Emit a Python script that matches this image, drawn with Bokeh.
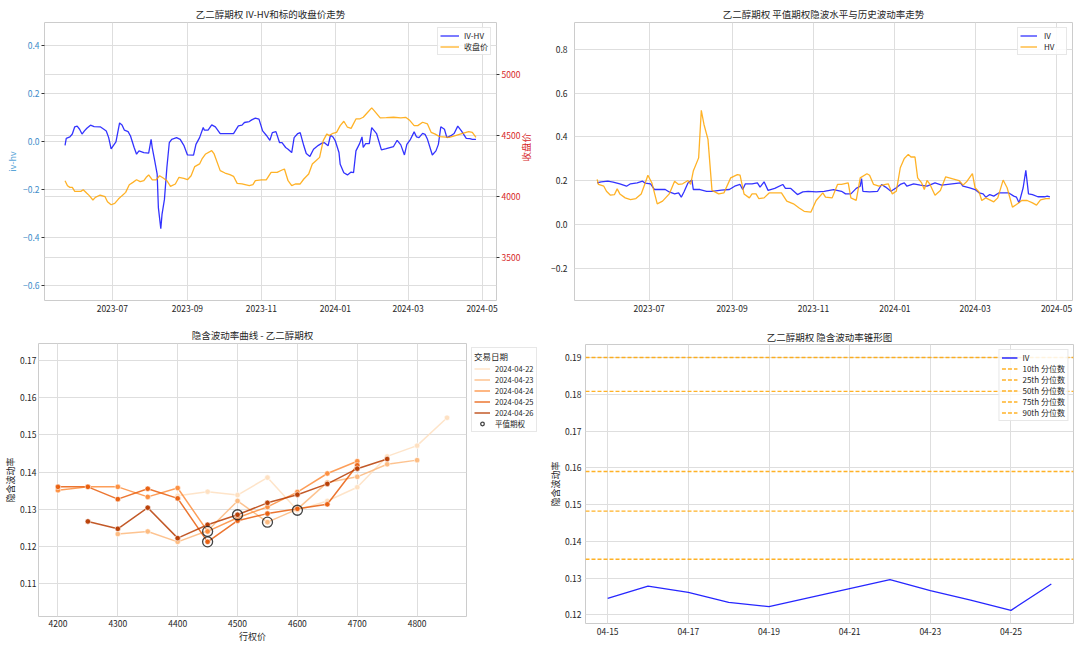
import math
import pandas as pd
from bokeh.plotting import figure
from bokeh.models import (Range1d, LinearAxis, Grid, FixedTicker,
                          CustomJSTickFormatter, DatetimeTickFormatter,
                          Legend, LegendItem)
from bokeh.layouts import row, column
from bokeh.embed import file_html
from bokeh.resources import INLINE

FONT = "Noto Sans CJK SC"
TXT = "#262626"
GRID = "#dedede"
EDGE = "#cccccc"

# ---------------- data: top-left (IV-HV and close) ----------------
ivhv_dates = ["2023-05-23", "2023-05-24", "2023-05-27", "2023-05-29", "2023-05-31", "2023-06-02", "2023-06-04",
              "2023-06-06", "2023-06-08", "2023-06-10", "2023-06-13", "2023-06-16", "2023-06-21", "2023-06-24",
              "2023-06-26", "2023-06-28", "2023-06-30", "2023-07-04", "2023-07-07", "2023-07-09", "2023-07-11",
              "2023-07-14", "2023-07-16", "2023-07-19", "2023-07-21", "2023-07-23", "2023-07-27", "2023-07-31",
              "2023-08-02", "2023-08-03", "2023-08-05", "2023-08-07", "2023-08-08", "2023-08-10", "2023-08-11",
              "2023-08-13", "2023-08-15", "2023-08-17", "2023-08-19", "2023-08-23", "2023-08-26", "2023-08-29",
              "2023-09-01", "2023-09-06", "2023-09-08", "2023-09-11", "2023-09-14", "2023-09-15", "2023-09-18",
              "2023-09-21", "2023-09-24", "2023-09-28", "2023-10-03", "2023-10-09", "2023-10-13", "2023-10-16",
              "2023-10-18", "2023-10-22", "2023-10-24", "2023-10-27", "2023-10-30", "2023-11-02", "2023-11-05",
              "2023-11-08", "2023-11-10", "2023-11-13", "2023-11-16", "2023-11-18", "2023-11-21", "2023-11-23",
              "2023-11-26", "2023-11-28", "2023-12-01", "2023-12-03", "2023-12-06", "2023-12-08", "2023-12-11",
              "2023-12-14", "2023-12-18", "2023-12-21", "2023-12-23", "2023-12-26", "2023-12-28", "2023-12-30",
              "2024-01-01", "2024-01-04", "2024-01-05", "2024-01-08", "2024-01-11", "2024-01-14", "2024-01-16",
              "2024-01-18", "2024-01-21", "2024-01-23", "2024-01-24", "2024-01-26", "2024-01-29", "2024-01-31",
              "2024-02-04", "2024-02-08", "2024-02-12", "2024-02-18", "2024-02-21", "2024-02-24", "2024-02-27",
              "2024-02-29", "2024-03-03", "2024-03-06", "2024-03-08", "2024-03-10", "2024-03-13", "2024-03-15",
              "2024-03-17", "2024-03-21", "2024-03-24", "2024-03-26", "2024-03-28", "2024-03-31", "2024-04-02",
              "2024-04-05", "2024-04-08", "2024-04-11", "2024-04-14", "2024-04-18", "2024-04-21", "2024-04-23",
              "2024-04-26"]
ivhv_values = [-0.017, 0.012, 0.018, 0.030, 0.060, 0.063, 0.050,
               0.030, 0.043, 0.054, 0.067, 0.061, 0.060, 0.050,
               0.043, 0.015, -0.032, -0.003, 0.076, 0.068, 0.046,
               0.040, 0.022, -0.026, -0.054, -0.040, -0.047, -0.049,
               0.008, -0.029, -0.082, -0.137, -0.276, -0.364, -0.304,
               -0.242, -0.110, -0.006, 0.008, 0.015, 0.008, -0.017,
               -0.057, -0.058, -0.013, 0.015, 0.057, 0.046, 0.046,
               0.068, 0.060, 0.032, 0.032, 0.032, 0.064, 0.067,
               0.078, 0.082, 0.089, 0.096, 0.092, 0.043, 0.025,
               0.004, 0.036, 0.040, -0.006, -0.006, -0.026, -0.033,
               -0.047, 0.015, 0.032, 0.036, -0.019, -0.051, -0.063,
               -0.033, -0.017, -0.008, -0.006, -0.019, 0.025, 0.018,
               0.001, -0.047, -0.096, -0.131, -0.140, -0.128, -0.131,
               -0.040, -0.010, 0.018, -0.026, -0.010, -0.010, 0.057,
               0.032, -0.036, -0.031, -0.022, 0.004, -0.015, -0.057,
               -0.013, 0.008, 0.039, 0.018, 0.015, 0.033, 0.029,
               0.008, -0.057, -0.040, -0.013, 0.060, 0.050, 0.015,
               0.022, 0.032, 0.063, 0.043, 0.012, 0.011, 0.008,
               0.008]

close_dates = ["2023-05-23", "2023-05-25", "2023-05-27", "2023-05-29", "2023-05-31", "2023-06-05", "2023-06-07",
               "2023-06-10", "2023-06-12", "2023-06-15", "2023-06-17", "2023-06-21", "2023-06-25", "2023-06-27",
               "2023-06-30", "2023-07-03", "2023-07-06", "2023-07-09", "2023-07-12", "2023-07-15", "2023-07-18",
               "2023-07-21", "2023-07-24", "2023-07-27", "2023-07-29", "2023-07-31", "2023-08-03", "2023-08-06",
               "2023-08-09", "2023-08-12", "2023-08-15", "2023-08-18", "2023-08-22", "2023-08-25", "2023-08-29",
               "2023-09-01", "2023-09-04", "2023-09-07", "2023-09-11", "2023-09-13", "2023-09-16", "2023-09-21",
               "2023-09-23", "2023-09-28", "2023-10-02", "2023-10-06", "2023-10-09", "2023-10-12", "2023-10-16",
               "2023-10-22", "2023-10-25", "2023-10-27", "2023-11-01", "2023-11-05", "2023-11-09", "2023-11-14",
               "2023-11-18", "2023-11-20", "2023-11-23", "2023-11-26", "2023-11-29", "2023-12-03", "2023-12-06",
               "2023-12-10", "2023-12-13", "2023-12-16", "2023-12-19", "2023-12-22", "2023-12-25", "2023-12-27",
               "2023-12-30", "2024-01-02", "2024-01-05", "2024-01-08", "2024-01-11", "2024-01-14", "2024-01-18",
               "2024-01-21", "2024-01-24", "2024-01-27", "2024-01-31", "2024-02-02", "2024-02-07", "2024-02-12",
               "2024-02-18", "2024-02-24", "2024-02-28", "2024-03-02", "2024-03-06", "2024-03-09", "2024-03-13",
               "2024-03-17", "2024-03-20", "2024-03-23", "2024-03-27", "2024-04-04", "2024-04-09", "2024-04-15",
               "2024-04-20", "2024-04-23", "2024-04-26"]
close_values = [4129, 4088, 4074, 4074, 4041, 4041, 4055,
                4025, 4006, 3970, 3992, 4011, 3997, 3956,
                3931, 3942, 3978, 4006, 4033, 4096, 4115,
                4137, 4121, 4129, 4157, 4176, 4135, 4135,
                4170, 4151, 4129, 4082, 4102, 4157, 4148,
                4137, 4170, 4245, 4267, 4308, 4349, 4376,
                4349, 4212, 4192, 4179, 4165, 4107, 4102,
                4088, 4096, 4129, 4135, 4135, 4198, 4198,
                4217, 4225, 4129, 4088, 4102, 4102, 4143,
                4184, 4267, 4294, 4321, 4459, 4514, 4500,
                4519, 4527, 4582, 4618, 4569, 4560, 4637,
                4637, 4651, 4684, 4728, 4706, 4646, 4648,
                4651, 4646, 4651, 4629, 4582, 4582, 4610,
                4596, 4527, 4514, 4492, 4486, 4500, 4519,
                4533, 4527, 4486]

# ---------------- data: top-right (IV and HV) ----------------
iv_dates = ["2023-05-23", "2023-05-26", "2023-05-31", "2023-06-04", "2023-06-09", "2023-06-14", "2023-06-17",
            "2023-06-22", "2023-06-26", "2023-06-28", "2023-07-02", "2023-07-05", "2023-07-09", "2023-07-13",
            "2023-07-16", "2023-07-20", "2023-07-23", "2023-07-25", "2023-07-27", "2023-07-30", "2023-08-02",
            "2023-08-03", "2023-08-08", "2023-08-13", "2023-08-17", "2023-08-24", "2023-08-30", "2023-09-03",
            "2023-09-07", "2023-09-09", "2023-09-11", "2023-09-16", "2023-09-20", "2023-09-22", "2023-09-25",
            "2023-09-28", "2023-10-03", "2023-10-09", "2023-10-11", "2023-10-15", "2023-10-20", "2023-10-24",
            "2023-10-28", "2023-11-03", "2023-11-09", "2023-11-16", "2023-11-22", "2023-11-25", "2023-11-29",
            "2023-12-03", "2023-12-06", "2023-12-07", "2023-12-08", "2023-12-13", "2023-12-19", "2023-12-22",
            "2023-12-25", "2023-12-29", "2024-01-02", "2024-01-05", "2024-01-08", "2024-01-10", "2024-01-15",
            "2024-01-20", "2024-01-25", "2024-01-31", "2024-02-05", "2024-02-19", "2024-02-21", "2024-02-26",
            "2024-03-01", "2024-03-04", "2024-03-07", "2024-03-09", "2024-03-12", "2024-03-15", "2024-03-19",
            "2024-03-26", "2024-03-30", "2024-04-01", "2024-04-03", "2024-04-06", "2024-04-08", "2024-04-10",
            "2024-04-13", "2024-04-17", "2024-04-22", "2024-04-24", "2024-04-26"]
iv_values = [0.191, 0.196, 0.199, 0.195, 0.187, 0.176, 0.187,
             0.191, 0.199, 0.190, 0.187, 0.161, 0.161, 0.161,
             0.150, 0.141, 0.146, 0.126, 0.150, 0.191, 0.204,
             0.161, 0.161, 0.153, 0.153, 0.158, 0.161, 0.176,
             0.184, 0.161, 0.187, 0.187, 0.191, 0.172, 0.196,
             0.157, 0.166, 0.184, 0.166, 0.166, 0.138, 0.150,
             0.153, 0.150, 0.153, 0.161, 0.153, 0.141, 0.141,
             0.166, 0.176, 0.211, 0.153, 0.150, 0.153, 0.184,
             0.172, 0.153, 0.169, 0.184, 0.191, 0.176, 0.187,
             0.181, 0.176, 0.191, 0.181, 0.191, 0.176, 0.169,
             0.161, 0.146, 0.141, 0.126, 0.138, 0.131, 0.146,
             0.146, 0.131, 0.126, 0.100, 0.169, 0.248, 0.141,
             0.138, 0.128, 0.128, 0.131, 0.127]

hv_dates = ["2023-05-23", "2023-05-24", "2023-05-28", "2023-05-30", "2023-06-02", "2023-06-05", "2023-06-07",
            "2023-06-09", "2023-06-13", "2023-06-17", "2023-06-21", "2023-06-25", "2023-06-28", "2023-06-30",
            "2023-07-03", "2023-07-07", "2023-07-11", "2023-07-16", "2023-07-20", "2023-07-23", "2023-07-26",
            "2023-07-30", "2023-08-01", "2023-08-03", "2023-08-07", "2023-08-09", "2023-08-11", "2023-08-14",
            "2023-08-17", "2023-08-22", "2023-08-26", "2023-08-31", "2023-09-05", "2023-09-07", "2023-09-10",
            "2023-09-14", "2023-09-16", "2023-09-19", "2023-09-21", "2023-09-25", "2023-09-29", "2023-10-08",
            "2023-10-12", "2023-10-17", "2023-10-21", "2023-10-25", "2023-10-30", "2023-11-03", "2023-11-08",
            "2023-11-10", "2023-11-15", "2023-11-19", "2023-11-22", "2023-11-27", "2023-11-29", "2023-12-03",
            "2023-12-06", "2023-12-11", "2023-12-13", "2023-12-16", "2023-12-20", "2023-12-25", "2023-12-27",
            "2023-12-30", "2024-01-02", "2024-01-05", "2024-01-08", "2024-01-11", "2024-01-13", "2024-01-16",
            "2024-01-18", "2024-01-21", "2024-01-23", "2024-01-25", "2024-01-27", "2024-01-31", "2024-02-04",
            "2024-02-08", "2024-02-18", "2024-02-21", "2024-02-24", "2024-02-28", "2024-03-01", "2024-03-04",
            "2024-03-06", "2024-03-09", "2024-03-15", "2024-03-18", "2024-03-22", "2024-03-25", "2024-03-29",
            "2024-04-01", "2024-04-05", "2024-04-09", "2024-04-13", "2024-04-16", "2024-04-19", "2024-04-23",
            "2024-04-26"]
hv_values = [0.207, 0.184, 0.176, 0.153, 0.135, 0.138, 0.164,
             0.141, 0.123, 0.115, 0.120, 0.141, 0.191, 0.226,
             0.191, 0.096, 0.108, 0.141, 0.199, 0.184, 0.187,
             0.202, 0.184, 0.245, 0.305, 0.521, 0.457, 0.389,
             0.157, 0.141, 0.146, 0.214, 0.229, 0.226, 0.141,
             0.123, 0.141, 0.141, 0.120, 0.123, 0.146, 0.146,
             0.108, 0.096, 0.078, 0.062, 0.058, 0.111, 0.146,
             0.126, 0.123, 0.184, 0.184, 0.191, 0.123, 0.112,
             0.214, 0.233, 0.226, 0.184, 0.176, 0.184, 0.187,
             0.141, 0.153, 0.260, 0.302, 0.321, 0.309, 0.309,
             0.214, 0.191, 0.161, 0.202, 0.187, 0.135, 0.157,
             0.219, 0.202, 0.181, 0.199, 0.233, 0.169, 0.150,
             0.111, 0.123, 0.105, 0.123, 0.204, 0.169, 0.081,
             0.093, 0.111, 0.111, 0.100, 0.090, 0.114, 0.120,
             0.120]

top_date_ticks = ["2023-07-01", "2023-09-01", "2023-11-01", "2024-01-01", "2024-03-01", "2024-05-01"]
ivhv_ticks = [-0.6, -0.4, -0.2, 0.0, 0.2, 0.4]
price_ticks = [3500, 4000, 4500, 5000]
vol_ticks = [-0.2, 0.0, 0.2, 0.4, 0.6, 0.8]

# ---------------- data: bottom-left (smile) ----------------
smile_dates = ["2024-04-22", "2024-04-23", "2024-04-24", "2024-04-25", "2024-04-26"]
strikes_0422 = [4400, 4450, 4500, 4550, 4600, 4650, 4700, 4750, 4800, 4850]
iv_0422 = [0.1336, 0.1347, 0.1338, 0.1385, 0.1297, 0.1322, 0.1359, 0.1442, 0.1471, 0.1546]
strikes_0423 = [4300, 4350, 4400, 4450, 4500, 4550, 4600, 4650, 4700, 4750, 4800]
iv_0423 = [0.1233, 0.1240, 0.1212, 0.1242, 0.1322, 0.1265, 0.1300, 0.1372, 0.1387, 0.1421, 0.1432]
strikes_0424 = [4200, 4250, 4300, 4350, 4400, 4450, 4500, 4550, 4600, 4650, 4700]
iv_0424 = [0.1351, 0.1360, 0.1360, 0.1333, 0.1357, 0.1240, 0.1277, 0.1306, 0.1346, 0.1396, 0.1429]
strikes_0425 = [4200, 4250, 4300, 4350, 4400, 4450, 4500, 4550, 4600, 4650, 4700]
iv_0425 = [0.1360, 0.1360, 0.1327, 0.1355, 0.1329, 0.1212, 0.1269, 0.1288, 0.1301, 0.1313, 0.1418]
strikes_0426 = [4250, 4300, 4350, 4400, 4450, 4500, 4550, 4600, 4650, 4700, 4750]
iv_0426 = [0.1267, 0.1247, 0.1304, 0.1222, 0.1258, 0.1285, 0.1317, 0.1339, 0.1368, 0.1409, 0.1435]
atm_strikes = [4600, 4550, 4450, 4450, 4500]
strike_ticks = [4200, 4300, 4400, 4500, 4600, 4700, 4800]
smile_iv_ticks = [0.11, 0.12, 0.13, 0.14, 0.15, 0.16, 0.17]

# ---------------- data: bottom-right (cone) ----------------
cone_dates = ["2024-04-15", "2024-04-16", "2024-04-17", "2024-04-18", "2024-04-19",
              "2024-04-22", "2024-04-23", "2024-04-24", "2024-04-25", "2024-04-26"]
cone_iv = [0.1245, 0.1278, 0.1261, 0.1234, 0.1222, 0.1296, 0.1266, 0.1240, 0.1212, 0.1284]
pct_labels = ["10th 分位数", "25th 分位数", "50th 分位数", "75th 分位数", "90th 分位数"]
pct_values = [0.1351, 0.1482, 0.1590, 0.1808, 0.1900]
cone_date_ticks = ["2024-04-15", "2024-04-17", "2024-04-19", "2024-04-21", "2024-04-23", "2024-04-25"]
cone_iv_ticks = [0.12, 0.13, 0.14, 0.15, 0.16, 0.17, 0.18, 0.19]


# ---------------- helpers ----------------
def ms(d):
    return pd.Timestamp(d).timestamp() * 1000.0


def padded(lo, hi, frac=0.05):
    span = hi - lo
    return lo - span * frac, hi + span * frac


def num_fmt(dec):
    return CustomJSTickFormatter(code="""
        const s = Math.abs(tick).toFixed(%d);
        return (tick < -1e-9 ? "\\u2212" : "") + s;
    """ % dec)


def make_fig(**kw):
    p = figure(output_backend="svg", toolbar_location=None, **kw)
    if "frame_align" in p.properties():
        p.frame_align = False
    return p


def style_axis(ax, color=TXT):
    ax.axis_line_color = None
    ax.major_tick_line_color = None
    ax.minor_tick_line_color = None
    ax.major_tick_out = 0
    ax.major_tick_in = 0
    ax.minor_tick_out = 0
    ax.minor_tick_in = 0
    ax.major_label_text_font = FONT
    ax.major_label_text_font_size = "8.5px"
    ax.major_label_text_color = color
    ax.major_label_standoff = 4
    ax.axis_label_text_font = FONT
    ax.axis_label_text_font_size = "9px"
    ax.axis_label_text_font_style = "normal"
    ax.axis_label_text_color = TXT
    ax.axis_label_standoff = 0


def style_fig(p, title, standoff=3):
    p.title.text = title
    p.title.text_font = FONT
    p.title.text_font_size = "9.5px"
    p.title.text_font_style = "normal"
    p.title.text_color = TXT
    p.title.align = "center"
    p.title.standoff = standoff
    p.outline_line_color = EDGE
    p.outline_line_width = 1
    p.background_fill_color = "white"
    p.border_fill_color = "white"
    for ax in p.axis:
        style_axis(ax)
    for g in p.grid:
        g.grid_line_color = GRID
        g.grid_line_width = 1


def style_legend(lg, glyph_w=18, margin=5, font="8px"):
    lg.label_text_font = FONT
    lg.label_text_font_size = font
    lg.label_text_color = TXT
    lg.glyph_width = glyph_w
    lg.glyph_height = 9
    lg.label_height = 9
    lg.spacing = 0
    lg.padding = 2
    lg.margin = margin
    lg.label_standoff = 5
    lg.border_line_color = "#d0d0d0"
    lg.background_fill_alpha = 0.85


date_fmt = DatetimeTickFormatter(days="%Y-%m", months="%Y-%m", years="%Y-%m")
top_xrange = padded(ms(ivhv_dates[0]), ms(ivhv_dates[-1]))

# ---------------- top-left ----------------
p1 = make_fig(width=544, height=320, x_axis_type="datetime",
              x_range=Range1d(*top_xrange), y_range=Range1d(-0.6625, 0.494),
              min_border_left=44, min_border_right=48, min_border_top=22, min_border_bottom=20)
p1.extra_y_ranges = {"price": Range1d(3143, 5431)}
r_ivhv = p1.line(pd.to_datetime(ivhv_dates), ivhv_values, color="blue", alpha=0.8, line_width=1.3)
r_close = p1.line(pd.to_datetime(close_dates), close_values, color="orange", alpha=0.85,
                  line_width=1.3, y_range_name="price")
ax_r = LinearAxis(y_range_name="price", axis_label="收盘价", ticker=FixedTicker(ticks=price_ticks))
p1.add_layout(ax_r, "right")
p1.add_layout(Grid(dimension=1, ticker=FixedTicker(ticks=price_ticks), y_range_name="price"))
style_fig(p1, "乙二醇期权 IV-HV和标的收盘价走势")
axl = p1.left[0]
axl.ticker = FixedTicker(ticks=ivhv_ticks)
axl.formatter = num_fmt(1)
axl.axis_label = "iv-hv"
axl.major_label_text_color = "#3d8bc9"
axl.axis_label_text_color = "#5aa6d8"
axl.axis_label_standoff = 1
ax_r.major_label_text_color = "#d62728"
ax_r.axis_label_text_color = "#d62728"
ax_r.axis_label_text_font_size = "9.5px"
ax_r.axis_label_standoff = 3
if "axis_label_orientation" in ax_r.properties():
    ax_r.axis_label_orientation = math.pi / 2
for a in (axl, ax_r):
    a.major_tick_line_color = "#333333"
    a.major_tick_out = 3
    a.major_label_standoff = 2
p1.xaxis.ticker = FixedTicker(ticks=[ms(d) for d in top_date_ticks])
p1.xaxis.formatter = date_fmt
lg1 = Legend(items=[LegendItem(label="IV-HV", renderers=[r_ivhv]),
                    LegendItem(label="收盘价", renderers=[r_close])], location="top_right")
style_legend(lg1, glyph_w=19)
p1.add_layout(lg1)

# ---------------- top-right ----------------
p2 = make_fig(width=536, height=320, x_axis_type="datetime",
              x_range=Range1d(*top_xrange), y_range=Range1d(-0.344, 0.921),
              min_border_left=30, min_border_right=8, min_border_top=22, min_border_bottom=20)
r_iv = p2.line(pd.to_datetime(iv_dates), iv_values, color="blue", alpha=0.8, line_width=1.3)
r_hv = p2.line(pd.to_datetime(hv_dates), hv_values, color="orange", alpha=0.85, line_width=1.3)
style_fig(p2, "乙二醇期权 平值期权隐波水平与历史波动率走势")
p2.yaxis.ticker = FixedTicker(ticks=vol_ticks)
p2.yaxis.formatter = num_fmt(1)
p2.yaxis.major_label_standoff = 7
p2.xaxis.ticker = FixedTicker(ticks=[ms(d) for d in top_date_ticks])
p2.xaxis.formatter = date_fmt
lg2 = Legend(items=[LegendItem(label="IV", renderers=[r_iv]),
                    LegendItem(label="HV", renderers=[r_hv])], location="top_right")
style_legend(lg2, glyph_w=17)
lg2.label_standoff = 7
p2.add_layout(lg2)

# ---------------- bottom-left ----------------
smile_strikes = [strikes_0422, strikes_0423, strikes_0424, strikes_0425, strikes_0426]
smile_ivs = [iv_0422, iv_0423, iv_0424, iv_0425, iv_0426]
smile_colors = ["#fedfc0", "#fdb97d", "#fd8d3c", "#e95e0d", "#b73c02"]
all_k = [k for s in smile_strikes for k in s]
p3 = make_fig(width=467, height=326,
              x_range=Range1d(*padded(min(all_k), max(all_k))), y_range=Range1d(0.1011, 0.1746),
              min_border_left=38, min_border_right=1, min_border_top=23, min_border_bottom=30)
for s, v, c in zip(smile_strikes, smile_ivs, smile_colors):
    p3.line(s, v, color=c, alpha=0.85, line_width=1.5)
    p3.scatter(s, v, size=5.5, fill_color=c, line_color="white", line_width=0.6, fill_alpha=0.95)
atm_ivs = [v[s.index(k)] for s, v, k in zip(smile_strikes, smile_ivs, atm_strikes)]
p3.scatter(atm_strikes, atm_ivs, size=10, marker="circle", fill_color=None,
           line_color="#222222", line_width=1.3, line_alpha=0.85)
style_fig(p3, "隐含波动率曲线 - 乙二醇期权")
p3.xaxis.ticker = FixedTicker(ticks=strike_ticks)
p3.xaxis.formatter = num_fmt(0)
p3.xaxis.major_label_standoff = 3
p3.yaxis.ticker = FixedTicker(ticks=smile_iv_ticks)
p3.yaxis.formatter = num_fmt(2)
p3.yaxis.major_label_standoff = 2
p3.xaxis.axis_label = "行权价"
p3.yaxis.axis_label = "隐含波动率"

# legend panel for the smile chart (hidden proxy renderers built from the same data)
p3L = make_fig(width=78, height=326, x_axis_location=None, y_axis_location=None,
               min_border_left=4, min_border_right=0, min_border_top=27, min_border_bottom=0)
p3L.outline_line_color = None
p3L.grid.visible = False
p3L.background_fill_color = None
items3 = []
for d, s, v, c in zip(smile_dates, smile_strikes, smile_ivs, smile_colors):
    rr = p3L.line(s, v, color=c, alpha=0.85, line_width=1.5, visible=False)
    items3.append(LegendItem(label=d, renderers=[rr]))
r_atm_proxy = p3L.scatter(atm_strikes, atm_ivs, size=10, marker="circle", fill_color=None,
                          line_color="#222222", line_width=1.3, line_alpha=0.85, visible=False)
items3.append(LegendItem(label="平值期权", renderers=[r_atm_proxy]))
lg3 = Legend(items=items3, title="交易日期", location="top_left")
style_legend(lg3, glyph_w=16, margin=0, font="7.5px")
lg3.title_text_font = FONT
lg3.title_text_font_size = "8.5px"
lg3.title_text_font_style = "normal"
lg3.title_text_color = TXT
lg3.title_standoff = 1
lg3.inactive_fill_alpha = 0
p3L.add_layout(lg3)

# ---------------- bottom-right ----------------
cone_xr = padded(ms(cone_dates[0]), ms(cone_dates[-1]))
p4 = make_fig(width=535, height=326, x_axis_type="datetime",
              x_range=Range1d(*cone_xr), y_range=Range1d(0.11763, 0.19355),
              min_border_left=40, min_border_right=7, min_border_top=24, min_border_bottom=23)
r_cone = p4.line(pd.to_datetime(cone_dates), cone_iv, color="blue", alpha=0.85, line_width=1.3)
items4 = [LegendItem(label="IV", renderers=[r_cone])]
for lab, q in zip(pct_labels, pct_values):
    r_q = p4.line([cone_xr[0], cone_xr[1]], [q, q], line_color="orange", line_alpha=0.85,
                  line_width=1.4, line_dash="4 2")
    items4.append(LegendItem(label=lab, renderers=[r_q]))
style_fig(p4, "乙二醇期权 隐含波动率锥形图", standoff=1)
p4.xaxis.ticker = FixedTicker(ticks=[ms(d) for d in cone_date_ticks])
p4.xaxis.formatter = DatetimeTickFormatter(days="%m-%d", months="%m-%d", hours="%m-%d")
p4.yaxis.ticker = FixedTicker(ticks=cone_iv_ticks)
p4.yaxis.formatter = num_fmt(2)
p4.yaxis.major_label_standoff = 4
p4.yaxis.axis_label = "隐含波动率"
lg4 = Legend(items=items4, location="top_right")
style_legend(lg4, glyph_w=16)
p4.add_layout(lg4)

layout = column(row(p1, p2), row(p3, p3L, p4))
open("out.html", "w").write(file_html(layout, INLINE))
